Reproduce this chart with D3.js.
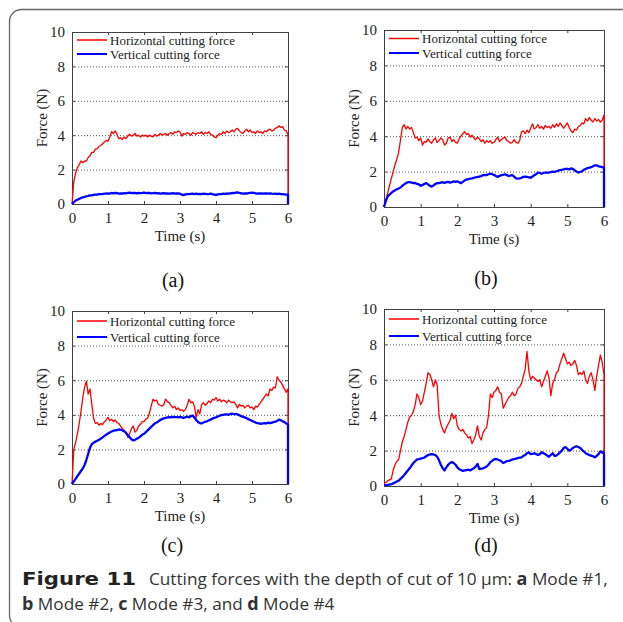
<!DOCTYPE html>
<html><head><meta charset="utf-8">
<script src="https://cdn.jsdelivr.net/npm/d3@7/dist/d3.min.js"></script>
<style>body{margin:0;background:#fff}svg{display:block}</style>
</head><body>
<svg id="c" width="623" height="622"></svg>
<script>
// ---------- DATA (force in N, sampled every 0.05 s from 0 to 6 s) ----------
const xTicks = [0, 1, 2, 3, 4, 5, 6];
const yTicks = [0, 2, 4, 6, 8, 10];
const legendLabels = ["Horizontal cutting force", "Vertical cutting force"];
const panelLabels = ["(a)", "(b)", "(c)", "(d)"];
const dropValue = 0; // each trace drops to 0 at t = 6 s

const horizA = [
0,1.3,1.8,2.1,2.3,2.5,2.4,2.5,2.5,2.7,
2.8,3.0,3.0,3.2,3.2,3.35,3.4,3.5,3.6,3.7,
3.65,3.9,4.2,4.1,4.25,4.05,3.8,3.85,3.75,3.9,
3.8,3.95,4.05,3.95,4.0,4.1,3.95,4.0,3.9,4.0,
3.95,4.0,3.9,4.0,3.95,3.9,4.05,3.95,4.0,4.1,
4.0,4.05,4.1,4.0,4.1,4.15,4.05,4.2,4.15,4.25,
4.2,3.95,4.1,4.05,4.15,4.1,4.0,4.15,4.1,4.05,
4.15,4.1,4.2,4.05,4.15,4.1,4.2,4.05,4.0,3.9,
3.85,4.0,4.1,4.05,4.2,4.1,4.25,4.15,4.2,4.3,
4.2,4.35,4.4,4.25,4.15,4.1,4.25,4.35,4.2,4.3,
4.15,4.2,4.1,4.25,4.15,4.2,4.1,4.25,4.2,4.3,
4.35,4.25,4.3,4.4,4.45,4.55,4.45,4.5,4.3,4.25,
4.05];
const vertA = [
0,0.1,0.2,0.25,0.3,0.35,0.38,0.42,0.45,0.47,
0.5,0.5,0.53,0.55,0.54,0.57,0.58,0.57,0.6,0.6,
0.62,0.6,0.64,0.62,0.65,0.63,0.6,0.62,0.61,0.63,
0.62,0.64,0.66,0.63,0.65,0.64,0.62,0.65,0.63,0.64,
0.66,0.63,0.65,0.64,0.62,0.63,0.65,0.62,0.63,0.6,
0.62,0.63,0.61,0.62,0.6,0.61,0.63,0.6,0.62,0.61,
0.6,0.54,0.52,0.56,0.58,0.57,0.59,0.6,0.58,0.6,
0.57,0.59,0.58,0.6,0.59,0.57,0.58,0.6,0.57,0.55,
0.53,0.56,0.58,0.57,0.6,0.59,0.61,0.6,0.62,0.64,
0.63,0.66,0.67,0.64,0.62,0.6,0.62,0.61,0.63,0.65,
0.66,0.64,0.62,0.6,0.62,0.61,0.6,0.62,0.61,0.6,
0.62,0.6,0.59,0.61,0.58,0.6,0.58,0.57,0.56,0.55,
0.55];
const horizB = [
0,0.4,0.8,1.2,1.6,2.0,2.4,2.7,3.1,3.8,
4.5,4.65,4.4,4.55,4.4,4.5,4.2,3.9,3.95,3.75,
3.9,3.5,3.7,3.65,3.85,3.7,3.6,3.8,3.9,3.65,
3.75,3.9,3.8,3.5,3.6,3.9,3.95,3.7,3.8,3.65,
3.6,3.85,4.0,4.15,4.25,4.1,4.15,3.95,4.05,3.9,
3.8,3.95,3.85,3.7,3.8,3.6,3.75,3.65,3.75,3.6,
3.65,3.8,3.95,3.7,3.8,3.9,3.95,3.75,3.7,3.6,
3.65,3.8,3.65,3.6,3.75,4.25,4.3,4.15,4.35,4.2,
4.45,4.7,4.4,4.5,4.65,4.45,4.55,4.4,4.6,4.5,
4.55,4.45,4.65,4.5,4.7,4.55,4.75,4.6,4.45,4.6,
4.75,4.5,4.3,4.2,4.4,4.35,4.55,4.6,4.75,4.7,
5.0,4.85,5.05,4.9,4.8,5.0,4.85,4.95,4.8,4.9,
5.2];
const vertB = [
0,0.35,0.6,0.7,0.8,0.88,0.95,1.0,1.05,1.1,
1.2,1.28,1.35,1.4,1.4,1.38,1.35,1.36,1.3,1.28,
1.2,1.25,1.3,1.35,1.28,1.2,1.15,1.22,1.3,1.35,
1.35,1.38,1.4,1.36,1.4,1.42,1.38,1.4,1.45,1.42,
1.45,1.4,1.35,1.42,1.5,1.55,1.58,1.6,1.62,1.65,
1.68,1.7,1.72,1.75,1.8,1.82,1.8,1.85,1.88,1.85,
1.82,1.75,1.7,1.75,1.8,1.82,1.85,1.8,1.75,1.78,
1.8,1.72,1.62,1.6,1.62,1.65,1.7,1.72,1.7,1.68,
1.65,1.72,1.8,1.85,1.95,1.92,1.88,1.92,1.95,1.93,
1.95,1.97,2.0,1.98,2.02,2.05,2.08,2.1,2.12,2.15,
2.15,2.12,2.18,2.15,2.08,2.0,1.95,1.98,2.02,2.1,
2.15,2.2,2.22,2.25,2.3,2.35,2.35,2.3,2.28,2.25,
2.22];
const horizC = [
0,2.0,2.4,2.9,3.5,4.2,5.0,5.6,5.95,5.2,
5.5,4.6,3.8,3.5,3.55,3.4,3.5,3.45,3.6,3.7,
3.85,3.65,3.75,3.6,3.7,3.55,3.5,3.35,3.2,3.1,
3.0,2.7,2.9,3.2,3.35,3.0,3.1,3.35,3.45,3.6,
3.6,3.75,3.8,4.1,4.5,4.9,4.8,4.85,4.6,4.55,
4.5,4.6,4.9,4.75,4.7,4.55,4.4,4.5,4.3,4.4,
4.25,4.3,4.2,4.3,4.55,4.9,4.7,4.75,4.5,3.85,
4.3,4.05,4.6,4.7,4.55,4.65,4.8,4.7,4.9,4.85,
5.0,4.8,4.9,4.75,4.85,4.8,4.7,4.85,4.75,4.7,
4.75,4.6,4.4,4.6,4.5,4.55,4.4,4.5,4.55,4.4,
4.45,4.3,4.5,4.45,4.6,4.75,4.9,5.05,5.2,5.1,
5.5,5.4,5.6,5.55,6.2,6.0,5.9,5.7,5.5,5.3,
5.5];
const vertC = [
0,0.15,0.3,0.45,0.6,0.75,0.9,1.1,1.4,1.75,
2.1,2.3,2.38,2.45,2.5,2.55,2.62,2.7,2.78,2.85,
2.92,2.98,3.03,3.08,3.1,3.12,3.15,3.14,3.1,3.05,
2.95,2.82,2.7,2.58,2.52,2.55,2.62,2.68,2.75,2.85,
2.9,3.0,3.1,3.2,3.3,3.4,3.5,3.55,3.62,3.7,
3.75,3.8,3.82,3.85,3.86,3.85,3.88,3.87,3.86,3.85,
3.88,3.85,3.82,3.86,3.9,3.85,3.92,3.95,3.85,3.7,
3.58,3.52,3.5,3.55,3.6,3.62,3.68,3.72,3.78,3.82,
3.85,3.9,3.95,3.98,4.0,4.02,4.03,4.0,4.05,4.06,
4.04,4.05,4.02,3.98,3.92,3.88,3.85,3.8,3.75,3.7,
3.65,3.6,3.55,3.52,3.5,3.48,3.5,3.52,3.5,3.55,
3.52,3.55,3.58,3.6,3.65,3.72,3.68,3.62,3.58,3.5,
3.45];
const horizD = [
0.15,0.2,0.3,0.35,0.4,0.9,1.2,1.4,1.5,2.0,
2.5,2.8,3.2,3.6,3.9,4.0,4.2,4.6,5.2,5.0,
4.6,4.8,5.3,5.8,6.4,6.3,6.0,5.6,6.0,5.7,
4.0,3.5,3.2,3.0,3.3,3.5,3.7,4.1,3.8,4.0,
3.4,3.2,3.1,3.2,3.0,2.9,2.7,2.8,2.4,2.6,
2.9,3.4,2.8,2.6,3.0,3.2,3.3,4.0,5.2,5.0,
5.3,5.4,5.6,5.3,5.2,4.4,4.6,4.8,5.0,5.1,
5.3,5.1,5.2,5.5,5.6,5.8,6.2,6.6,7.6,6.5,
6.0,6.2,6.1,6.0,5.9,6.0,5.6,5.9,6.2,6.5,
6.1,5.1,5.8,6.0,6.4,6.5,6.9,7.2,7.5,7.2,
6.9,7.0,6.8,6.9,7.1,6.8,6.3,6.4,6.3,6.5,
6.0,5.8,6.2,6.4,6.0,5.4,6.2,6.8,7.4,7.0,
6.3];
const vertD = [
0.05,0.05,0.06,0.08,0.1,0.15,0.2,0.25,0.3,0.4,
0.5,0.62,0.75,0.88,1.0,1.15,1.3,1.4,1.5,1.52,
1.55,1.58,1.6,1.68,1.75,1.78,1.8,1.78,1.75,1.65,
1.45,1.2,1.0,0.88,1.05,1.2,1.3,1.35,1.3,1.2,
1.05,0.95,0.9,0.85,0.88,0.9,0.92,0.88,0.95,1.0,
1.1,1.25,0.95,0.98,1.0,1.05,1.1,1.2,1.35,1.42,
1.5,1.52,1.5,1.45,1.4,1.3,1.35,1.4,1.42,1.45,
1.5,1.52,1.55,1.58,1.6,1.62,1.7,1.75,1.85,1.9,
1.8,1.82,1.85,1.8,1.75,1.8,1.9,1.85,1.8,1.72,
1.65,1.75,1.85,1.7,1.72,1.8,1.9,2.0,2.15,2.2,
2.1,2.0,2.05,2.15,2.2,2.25,2.2,2.15,2.05,1.95,
1.85,1.8,1.75,1.72,1.68,1.62,1.7,1.8,1.95,1.9,
1.85];

// ---------- LAYOUT ----------
const panels = [
  {h: horizA, v: vertA, x: 72, y: 32, w: 216, hh: 172, leg: [8, 22], lab: [173, 280]},
  {h: horizB, v: vertB, x: 384, y: 30, w: 220, hh: 177, leg: [8.5, 23], lab: [486, 278]},
  {h: horizC, v: vertC, x: 72, y: 311, w: 216, hh: 173, leg: [10, 26], lab: [172, 545]},
  {h: horizD, v: vertD, x: 384, y: 309, w: 220, hh: 177, leg: [10, 27], lab: [486, 545]}
];
const RED = "#ff0000", BLUE = "#0000ff", AX = "#404040";
const SERIF = "'Liberation Serif','Times New Roman',serif";

const svg = d3.select("#c");

// outer rounded frame
svg.append("rect").attr("x", 9.5).attr("y", 9.5).attr("width", 700).attr("height", 618)
  .attr("rx", 12).attr("fill", "none").attr("stroke", "#666").attr("stroke-width", 1.3);

panels.forEach((p, pi) => {
  const g = svg.append("g").attr("transform", `translate(${p.x},${p.y})`);
  const x = d3.scaleLinear().domain([0, 6]).range([0, p.w]);
  const y = d3.scaleLinear().domain([0, 10]).range([p.hh, 0]);

  // grid (dotted)
  g.selectAll(".grid").data(yTicks.filter(t => t > 0 && t < 10)).join("line")
    .attr("x1", 0).attr("x2", p.w).attr("y1", d => y(d) + 0.5).attr("y2", d => y(d) + 0.5)
    .attr("stroke", "#555").attr("stroke-width", 1).attr("stroke-dasharray", "1,2");

  // axes
  const fmt = d3.format("d");
  const xb = g.append("g").attr("transform", `translate(0,${p.hh})`)
    .call(d3.axisBottom(x).tickValues(xTicks).tickSize(-3).tickPadding(8).tickFormat(fmt));
  const xt = g.append("g").call(d3.axisTop(x).tickValues(xTicks).tickSize(-3).tickFormat(""));
  const yl = g.append("g").call(d3.axisLeft(y).tickValues(yTicks).tickSize(-3).tickPadding(7).tickFormat(fmt));
  const yr = g.append("g").attr("transform", `translate(${p.w},0)`)
    .call(d3.axisRight(y).tickValues(yTicks).tickSize(-3).tickFormat(""));
  [xb, xt, yl, yr].forEach(a => {
    a.select(".domain").attr("stroke", AX).attr("stroke-width", 1);
    a.selectAll(".tick line").attr("stroke", AX);
    a.selectAll("text").attr("font-family", SERIF).attr("font-size", 15).attr("fill", "#222");
  });

  // series
  const toPts = arr => {
    const n = arr.length;
    const pts = arr.map((v, i) => [i * 6 / (n - 1), v]);
    pts.push([6, dropValue]);
    return pts;
  };
  const line = d3.line().x(d => x(d[0])).y(d => y(d[1]));
  g.append("path").datum(toPts(p.h)).attr("d", line).attr("fill", "none")
    .attr("stroke", RED).attr("stroke-width", 1.3).attr("stroke-linejoin", "round");
  g.append("path").datum(toPts(p.v)).attr("d", line).attr("fill", "none")
    .attr("stroke", BLUE).attr("stroke-width", 2.3).attr("stroke-linejoin", "round");

  // legend
  [RED, BLUE].forEach((c, i) => {
    const ly = p.leg[i];
    g.append("line").attr("x1", 5).attr("x2", 35).attr("y1", ly).attr("y2", ly)
      .attr("stroke", c).attr("stroke-width", i === 0 ? 1.5 : 2);
    g.append("text").attr("x", 38).attr("y", ly).attr("dy", "0.35em")
      .attr("font-family", SERIF).attr("font-size", 13).attr("fill", "#222")
      .text(legendLabels[i]);
  });

  // axis titles
  g.append("text").attr("x", p.w / 2).attr("y", p.hh + 32).attr("dy", "0.35em")
    .attr("text-anchor", "middle").attr("font-family", SERIF).attr("font-size", 15).attr("fill", "#222")
    .text("Time (s)");
  g.append("text").attr("transform", `translate(-30,${p.hh / 2}) rotate(-90)`).attr("dy", "0.35em")
    .attr("text-anchor", "middle").attr("font-family", SERIF).attr("font-size", 15).attr("fill", "#222")
    .text("Force (N)");

  // panel label
  svg.append("text").attr("x", p.lab[0]).attr("y", p.lab[1]).attr("dy", "0.35em")
    .attr("text-anchor", "middle").attr("font-family", SERIF).attr("font-size", 20).attr("fill", "#111")
    .text(panelLabels[pi]);
});

// caption
const cap = svg.append("g").attr("font-family", "'Open Sans','Noto Sans',sans-serif").attr("font-size", 17.2).attr("fill", "#333");
const l1 = cap.append("text").attr("x", 22).attr("y", 585);
l1.append("tspan").attr("font-weight", "bold").attr("font-size", 18)
  .attr("font-family", "'DejaVu Sans',sans-serif").attr("fill", "#222")
  .attr("textLength", 114).attr("lengthAdjust", "spacingAndGlyphs").text("Figure 11");
l1.append("tspan").attr("dx", 13).text("Cutting forces with the depth of cut of 10 \u03bcm: ");
l1.append("tspan").attr("font-weight", "bold").attr("font-size", 18).text("a");
l1.append("tspan").text(" Mode #1,");
const l2 = cap.append("text").attr("x", 22).attr("y", 610);
l2.append("tspan").attr("font-weight", "bold").attr("font-size", 18).text("b");
l2.append("tspan").text(" Mode #2, ");
l2.append("tspan").attr("font-weight", "bold").attr("font-size", 18).text("c");
l2.append("tspan").text(" Mode #3, and ");
l2.append("tspan").attr("font-weight", "bold").attr("font-size", 18).text("d");
l2.append("tspan").text(" Mode #4");
</script>
</body></html>
